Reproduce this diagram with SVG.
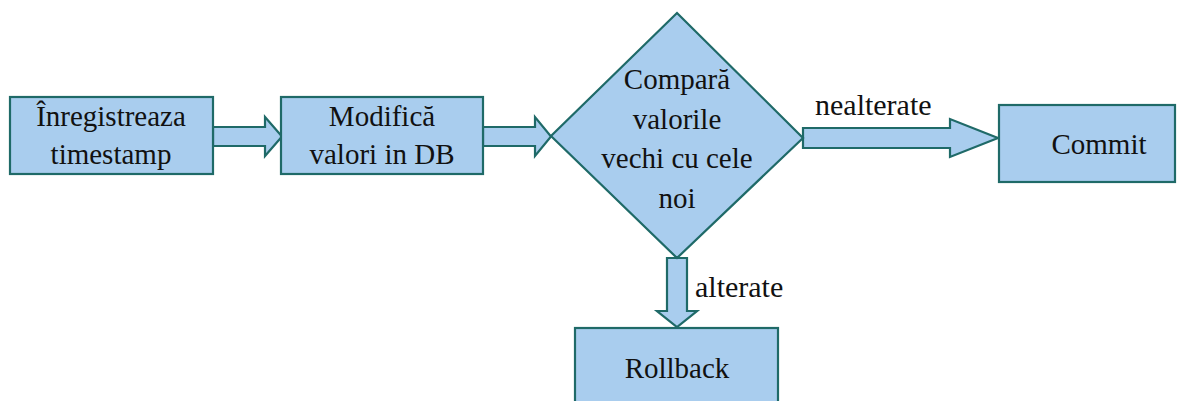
<svg xmlns="http://www.w3.org/2000/svg" width="1192" height="401" viewBox="0 0 1192 401">
<style>
.shape{fill:#a9cdee;stroke:#1f6a68;stroke-width:2.2;stroke-linejoin:miter}
.ntxt{font-family:'Liberation Serif',serif;font-size:29px;fill:#111;text-anchor:middle}
.ltxt{font-family:'Liberation Serif',serif;font-size:30px;fill:#111}
</style>
<rect width="1192" height="401" fill="#fff"/>
<g id="connectors">
<polygon class="shape" points="213,127 265,127 265,117 282,136.5 265,156 265,146 213,146"/>
<polygon class="shape" points="483,127 535,127 535,117 551,136.5 535,156 535,146 483,146"/>
<polygon class="shape" points="803,128 950,128 950,119 998,138 950,157 950,148 803,148"/>
<polygon class="shape" points="667,258 687,258 687,311 697,311 677,327 657,311 667,311"/>
<text class="ltxt" x="815" y="115">nealterate</text>
<text class="ltxt" x="695" y="297">alterate</text>
</g>
<g id="n1">
<rect class="shape" x="10" y="97" width="203" height="77"/>
<text class="ntxt" x="111" y="126">Înregistreaza</text>
<text class="ntxt" x="111" y="164">timestamp</text>
</g>
<g id="n2">
<rect class="shape" x="281" y="97" width="202" height="77"/>
<text class="ntxt" x="382" y="126">Modifică</text>
<text class="ntxt" x="382" y="164">valori in DB</text>
</g>
<g id="n3">
<polygon class="shape" points="677,13 803,138 677,258 551,136"/>
<text class="ntxt" x="677" y="89">Compară</text>
<text class="ntxt" x="677" y="129">valorile</text>
<text class="ntxt" x="677" y="168">vechi cu cele</text>
<text class="ntxt" x="677" y="208">noi</text>
</g>
<g id="n4">
<rect class="shape" x="999" y="105" width="176" height="77"/>
<text class="ntxt" x="1099" y="154">Commit</text>
</g>
<g id="n5">
<rect class="shape" x="575" y="328" width="203" height="80"/>
<text class="ntxt" x="677" y="378">Rollback</text>
</g>
</svg>
